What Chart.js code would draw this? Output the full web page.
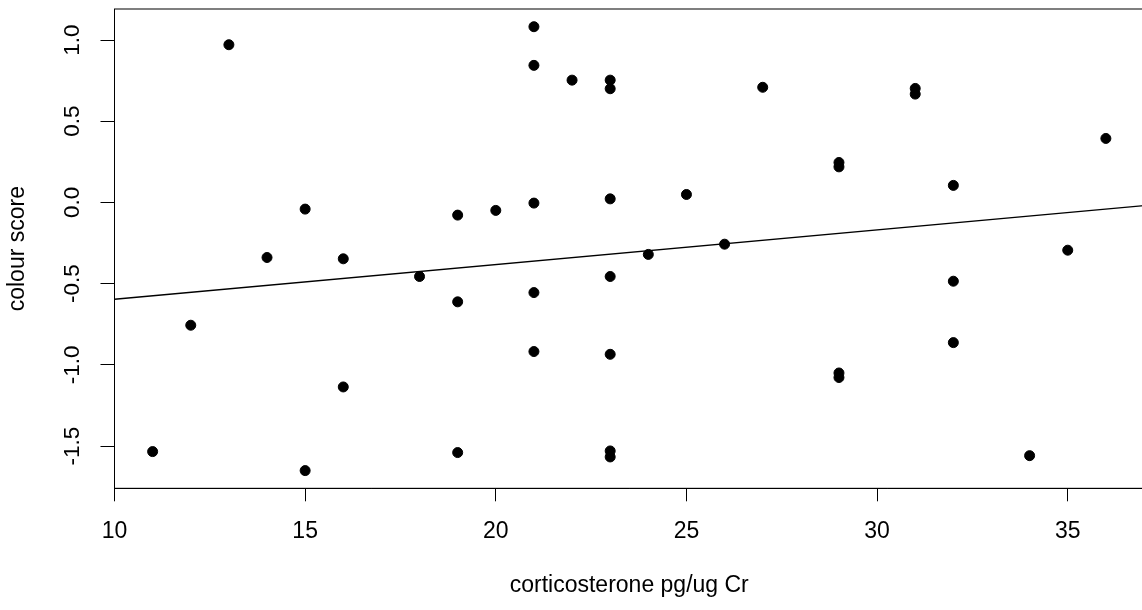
<!DOCTYPE html>
<html>
<head>
<meta charset="utf-8">
<script src="https://cdn.jsdelivr.net/npm/chart.js@4/dist/chart.umd.min.js"></script>
<style>
  html, body { margin: 0; padding: 0; background: #fff; overflow: hidden; }
  #wrap { width: 1150px; height: 610px; }
</style>
</head>
<body>
<div id="wrap"><canvas id="c" width="1150" height="610"></canvas></div>
<script>
// ---- data ----
const xValues = [11,12,13,14,15,15,16,16,18,19,19,19,20,21,21,21,21,21,22,23,23,23,23,23,23,23,24,25,26,27,29,29,29,29,31,31,32,32,32,34,35,36];
const yValues = [-1.534,-0.756,0.971,-0.339,-0.041,-1.651,-0.347,-1.136,-0.456,-0.078,-0.612,-1.540,-0.049,1.082,0.844,-0.004,-0.555,-0.918,0.753,0.753,0.700,0.022,-0.456,-0.935,-1.530,-1.567,-0.320,0.049,-0.257,0.709,0.246,0.219,-1.050,-1.078,0.702,0.667,0.105,-0.485,-0.863,-1.559,-0.294,0.394];
const fitIntercept = -0.8095;
const fitSlope = 0.02135;
const xTicks = [10, 15, 20, 25, 30, 35];
const xTickLabels = ['10', '15', '20', '25', '30', '35'];
const yTicks = [-1.5, -1.0, -0.5, 0.0, 0.5, 1.0];
const yTickLabels = ['-1.5', '-1.0', '-0.5', '0.0', '0.5', '1.0'];
const xRange = [10, 37];
const yRange = [-1.760, 1.191];
const xTitle = 'corticosterone pg/ug Cr';
const yTitle = 'colour score';

const FONT = '"Liberation Sans", Arial, Helvetica, sans-serif';
const points = xValues.map((x, i) => ({ x: x, y: yValues[i] }));
const fitLine = xRange.map(x => ({ x: x, y: fitIntercept + fitSlope * x }));

const boxPlugin = {
  id: 'box',
  afterDraw(chart) {
    const a = chart.chartArea, ctx = chart.ctx;
    ctx.save();
    ctx.strokeStyle = '#000';
    ctx.lineWidth = 1;
    ctx.strokeRect(a.left, a.top, a.right - a.left, a.bottom - a.top);
    ctx.restore();
  }
};

function noPad(s) { s.paddingTop = 0; s.paddingBottom = 0; s.paddingLeft = 0; s.paddingRight = 0; }

new Chart(document.getElementById('c'), {
  type: 'scatter',
  data: {
    datasets: [
      {
        label: 'points',
        data: points,
        pointRadius: 5,
        pointHoverRadius: 5,
        pointBackgroundColor: '#000',
        pointBorderColor: '#000',
        pointBorderWidth: 1,
        showLine: false
      },
      {
        label: 'fit',
        type: 'line',
        data: fitLine,
        borderColor: '#000',
        borderWidth: 1.3,
        pointRadius: 0,
        fill: false,
        tension: 0
      }
    ]
  },
  options: {
    responsive: false,
    animation: false,
    devicePixelRatio: 1,
    layout: { padding: { left: 0, top: 9, right: 5.4, bottom: 0 } },
    plugins: { legend: { display: false }, tooltip: { enabled: false } },
    scales: {
      x: {
        type: 'linear',
        min: xRange[0], max: xRange[1],
        afterFit(s) { s.height = 121.7; noPad(s); },
        afterBuildTicks(s) { s.ticks = xTicks.map(v => ({ value: v })); },
        ticks: {
          includeBounds: false,
          autoSkip: false,
          maxRotation: 0, minRotation: 0,
          padding: 17,
          color: '#000',
          font: { family: FONT, size: 23 },
          callback: (v) => { const i = xTicks.indexOf(v); return i >= 0 ? xTickLabels[i] : ''; }
        },
        grid: { drawOnChartArea: false, drawTicks: true, tickLength: 13, color: '#000', lineWidth: 1 },
        border: { display: true, color: '#000', width: 1 },
        title: {
          display: true, text: xTitle, color: '#000',
          font: { family: FONT, size: 23 },
          padding: { top: 0, bottom: 10.7 }
        }
      },
      y: {
        type: 'linear',
        min: yRange[0], max: yRange[1],
        afterFit(s) { s.width = 114.5; noPad(s); },
        afterBuildTicks(s) { s.ticks = yTicks.map(v => ({ value: v })); },
        ticks: {
          includeBounds: false,
          autoSkip: false,
          minRotation: 90, maxRotation: 90,
          crossAlign: 'center',
          padding: 8,
          color: '#000',
          font: { family: FONT, size: 22.5 },
          callback: (v) => { const i = yTicks.findIndex(t => Math.abs(t - v) < 1e-9); return i >= 0 ? yTickLabels[i] : ''; }
        },
        grid: { drawOnChartArea: false, drawTicks: true, tickLength: 14, color: '#000', lineWidth: 1 },
        border: { display: true, color: '#000', width: 1 },
        title: {
          display: true, text: yTitle, color: '#000',
          font: { family: FONT, size: 23 },
          padding: { top: 3.5, bottom: 0 }
        }
      }
    }
  },
  plugins: [boxPlugin]
});
</script>
</body>
</html>
